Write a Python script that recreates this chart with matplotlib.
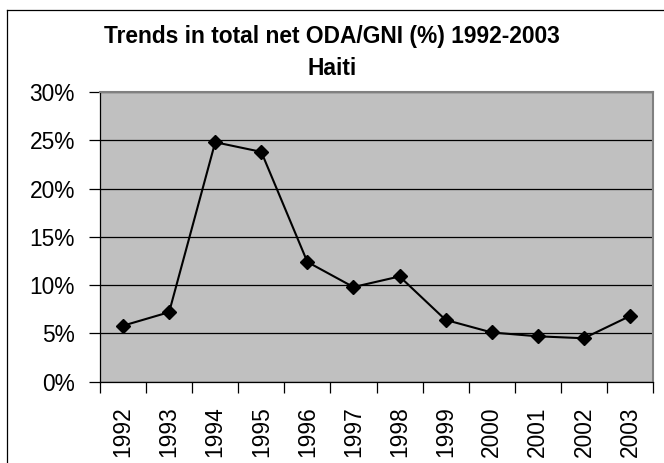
import matplotlib
matplotlib.use("Agg")
import matplotlib.pyplot as plt
from matplotlib.lines import Line2D
from matplotlib.ticker import FixedLocator, PercentFormatter

years = ["1992", "1993", "1994", "1995", "1996", "1997",
         "1998", "1999", "2000", "2001", "2002", "2003"]
oda_gni = [5.8, 7.2, 24.8, 23.8, 12.4, 9.8, 10.9, 6.4, 5.1, 4.7, 4.5, 6.8]
y_ticks = [0, 5, 10, 15, 20, 25, 30]

plt.rcParams["font.family"] = ["Liberation Sans", "DejaVu Sans"]

W, H = 664, 463
fig = plt.figure(figsize=(W / 100, H / 100), dpi=100)
fig.patch.set_facecolor("white")

# outer chart border (cut off at right and bottom in the reference)
fig.add_artist(Line2D([7 / W, 7 / W], [0, 1 - 10 / H], color="black", lw=0.9,
                      transform=fig.transFigure))
fig.add_artist(Line2D([7 / W, 1.0], [1 - 10 / H, 1 - 10 / H], color="black", lw=0.9,
                      transform=fig.transFigure))

ax = fig.add_axes([100 / W, (H - 381.7) / H, (653 - 100) / W, (381.7 - 92) / H])
ax.set_facecolor("#C0C0C0")

x = [i + 0.5 for i in range(len(years))]
ax.plot(x, oda_gni, color="black", lw=1.5, marker="D", markersize=6.8,
        markerfacecolor="black", markeredgecolor="black", zorder=3)

ax.set_xlim(0, len(years))
ax.set_ylim(0, 30)
ax.yaxis.set_major_locator(FixedLocator(y_ticks))
ax.yaxis.set_major_formatter(PercentFormatter(decimals=0))
ax.grid(axis="y", color="black", lw=0.9)
ax.set_axisbelow(True)

ax.xaxis.set_major_locator(FixedLocator(range(len(years) + 1)))
ax.xaxis.set_minor_locator(FixedLocator(x))
ax.set_xticklabels([], minor=False)
ax.set_xticklabels(years, minor=True, rotation=90)
ax.tick_params(axis="x", which="major", length=8, width=0.9, color="black")
ax.tick_params(axis="x", which="minor", length=0, pad=17.5, labelsize=16.4)
ax.tick_params(axis="y", length=8, width=0.9, pad=10, labelsize=16.4)

for side in ("top", "right"):
    ax.spines[side].set_color("#808080")
    ax.spines[side].set_linewidth(1.5)
for side in ("left", "bottom"):
    ax.spines[side].set_color("black")
    ax.spines[side].set_linewidth(0.9)

fig.text(332 / W, 1 - 43 / H, "Trends in total net ODA/GNI (%) 1992-2003",
         ha="center", va="baseline", fontsize=16.4, fontweight="bold")
fig.text(332 / W, 1 - 75 / H, "Haiti",
         ha="center", va="baseline", fontsize=16.4, fontweight="bold")

fig.savefig("out.png", dpi=100)
